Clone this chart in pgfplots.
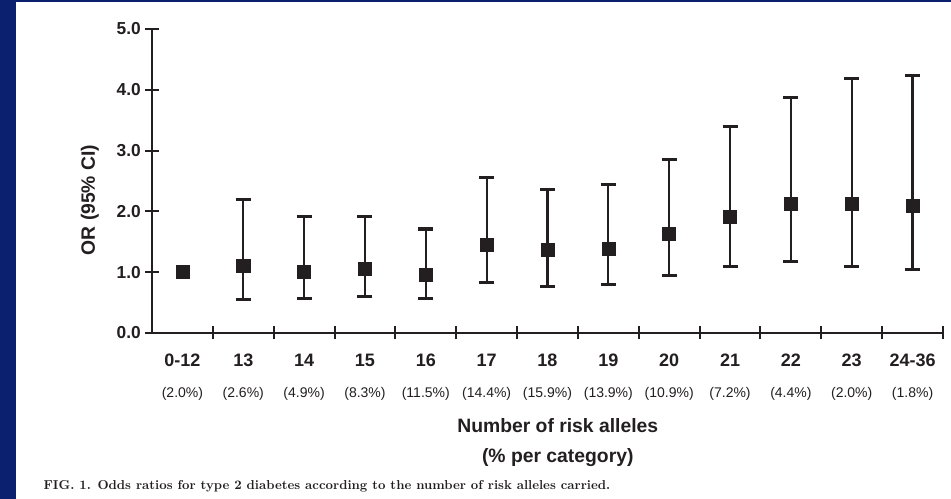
\documentclass[border=0pt]{standalone}
\usepackage{pgfplots}
\usepackage{pgfplotstable}
\pgfplotsset{compat=1.18}
\usepackage{fontspec}
\newfontfamily\arial{Liberation Sans}
\definecolor{navy}{RGB}{12,32,112}
\definecolor{ink}{RGB}{35,31,32}

% Odds ratio (OR) with lower/upper 95% confidence limits per allele count
\pgfplotstableread{
x    or    lo    hi
1.5  1.10  0.55  2.20
2.5  1.01  0.56  1.92
3.5  1.05  0.60  1.92
4.5  0.96  0.56  1.71
5.5  1.45  0.83  2.55
6.5  1.37  0.76  2.36
7.5  1.39  0.79  2.44
8.5  1.63  0.94  2.86
9.5  1.91  1.09  3.40
10.5 2.12  1.17  3.88
11.5 2.12  1.09  4.18
12.5 2.09  1.05  4.23
}\ortable

% two-line category label: allele count, then share of subjects
\newcommand{\cat}[2]{\textbf{\strut#1}\\[7pt]{\fontsize{10.5}{12}\selectfont\mdseries\strut(#2\%)}}

\begin{document}
\begin{tikzpicture}
\fill[navy] (0,0) rectangle (713.25pt,374.25pt);
\fill[white] (12pt,0) rectangle (713.25pt,373.1pt);
\begin{axis}[
  at={(114pt,124.5pt)}, anchor=south west,
  scale only axis, width=593.25pt, height=228pt,
  xmin=0, xmax=13, ymin=0, ymax=5,
  axis lines=left,
  axis line style={-, line width=1.5pt, ink},
  tick align=center,
  major tick length=9.75pt,
  minor tick length=9.75pt,
  every tick/.style={line width=1.5pt, ink},
  major x tick style={draw=none},
  minor x tick style={line width=1.5pt, ink},
  xtick={0.5,1.5,2.5,3.5,4.5,5.5,6.5,7.5,8.5,9.5,10.5,11.5,12.5},
  minor xtick={1,2,3,4,5,6,7,8,9,10,11,12,13},
  xticklabels={
    {\cat{0-12}{2.0}}, {\cat{13}{2.6}}, {\cat{14}{4.9}}, {\cat{15}{8.3}},
    {\cat{16}{11.5}}, {\cat{17}{14.4}}, {\cat{18}{15.9}}, {\cat{19}{13.9}},
    {\cat{20}{10.9}}, {\cat{21}{7.2}}, {\cat{22}{4.4}}, {\cat{23}{2.0}},
    {\cat{24-36}{1.8}}},
  xticklabel style={align=center, font=\arial\fontsize{13.5}{16}\selectfont, text=ink, anchor=north, yshift=-5.5pt},
  ytick={0,1,2,3,4,5},
  yticklabel style={font=\arial\bfseries\fontsize{13}{15}\selectfont, text=ink,
    /pgf/number format/.cd, fixed, fixed zerofill, precision=1, assume math mode=true},
  xlabel={Number of risk alleles\\[6pt](\% per category)},
  xlabel style={align=center, font=\arial\bfseries\fontsize{14.5}{17}\selectfont, text=ink,
    at={(axis description cs:0.513,-0.36)}, anchor=center},
  ylabel={OR (95\% CI)},
  ylabel style={font=\arial\bfseries\fontsize{14.5}{17}\selectfont, text=ink,
    at={(axis description cs:-0.0784,0.4375)}, anchor=center},
  clip=false,
]
% reference category: plotted without an interval
\addplot[only marks, mark=square*, mark size=4.9pt, color=ink]
  coordinates {(0.5,1.00)};
\addplot[only marks, mark=square*, mark size=4.9pt, color=ink,
  error bars/.cd, y dir=both, y explicit,
  error bar style={line width=1.7pt, ink},
  error mark options={rotate=90, line width=2.3pt, mark size=5.6pt, ink}]
  table[x=x, y=or,
        y error plus expr=\thisrow{hi}-\thisrow{or},
        y error minus expr=\thisrow{or}-\thisrow{lo}] {\ortable};
\end{axis}
\node[anchor=west, font=\fontsize{9.7}{11}\selectfont\bfseries, text=ink, inner sep=0pt]
  at (32.5pt,9.75pt) {FIG. 1. Odds ratios for type 2 diabetes according to the number of risk alleles carried.};
\pgfresetboundingbox
\path (0,0) rectangle (713.25pt,374.25pt);
\end{tikzpicture}
\end{document}
